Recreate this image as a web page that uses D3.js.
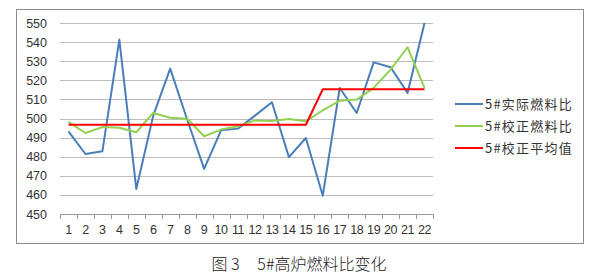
<!DOCTYPE html>
<html>
<head>
<meta charset="utf-8">
<script src="https://cdn.jsdelivr.net/npm/d3@7"></script>
<style>
  body { margin: 0; background: #fff; }
</style>
</head>
<body>
<div id="chart"></div>
<script>
const categories = d3.range(1, 23);
const actual = [493.3, 481.4, 482.8, 541.3, 463.1, 501.5, 526.1, 499.5, 473.6, 493.8, 494.7, 501.5, 508.5, 479.8,
  489.8, 459.6, 516, 502.9, 529.4, 526.8, 513.4, 550];
const corrected = [498.2, 492.4, 495.5, 495.2, 492.8, 502.9, 500.4, 499.9, 490.7, 494.2, 495.9, 499, 498.7, 499.7,
  498.5, 504.3, 509.3, 509.9, 516, 525.6, 537.3, 516];
const average = [496.7, 496.7, 496.7, 496.7, 496.7, 496.7, 496.7, 496.7, 496.7, 496.7, 496.7, 496.7, 496.7, 496.7,
  496.7, 515.3, 515.3, 515.3, 515.3, 515.3, 515.3, 515.3];
const yTicks = d3.range(450, 551, 10);
const seriesNames = ['5#实际燃料比', '5#校正燃料比', '5#校正平均值'];
const seriesColors = ['#4a7ebb', '#92d050', '#ff0000'];

const W = 598, H = 280;
const plot = { left: 60, right: 433, top: 23, bottom: 214 };

const svg = d3.select('#chart')
  .append('svg')
  .attr('width', W)
  .attr('height', H);

// chart frame
svg.append('rect')
  .attr('x', 16.5)
  .attr('y', 9.5)
  .attr('width', 567)
  .attr('height', 234)
  .attr('fill', '#fff')
  .attr('stroke', '#8c8c8c');

const x = d3.scaleBand()
  .domain(categories)
  .range([plot.left, plot.right]);

const y = d3.scaleLinear()
  .domain([450, 550])
  .range([plot.bottom, plot.top]);

// grid
svg.append('g')
  .selectAll('line')
  .data(yTicks)
  .enter()
  .append('line')
  .attr('x1', plot.left)
  .attr('x2', plot.right)
  .attr('y1', d => Math.round(y(d)) + 0.5)
  .attr('y2', d => Math.round(y(d)) + 0.5)
  .attr('stroke', d => d === 450 ? '#9a9a9a' : '#bdbdbd');

// y labels
const yAxis = svg.append('g')
  .attr('transform', `translate(${plot.left},0)`)
  .call(d3.axisLeft(y).tickValues(yTicks).tickSize(0).tickPadding(13));
yAxis.select('.domain').remove();
yAxis.selectAll('text')
  .attr('font-family', 'Liberation Sans, Arial, sans-serif')
  .attr('font-size', 12.5)
  .attr('fill', '#333');

// x axis
const xAxis = svg.append('g')
  .attr('transform', `translate(0,${Math.round(plot.bottom) + 0.5})`)
  .call(d3.axisBottom(x).tickSize(0).tickPadding(11));
xAxis.select('.domain').remove();
xAxis.selectAll('text')
  .attr('font-family', 'Liberation Sans, Arial, sans-serif')
  .attr('font-size', 12.5)
  .attr('letter-spacing', '-0.4')
  .attr('fill', '#333');

// tick marks between categories
svg.append('g')
  .selectAll('line')
  .data(categories.concat([null]))
  .enter()
  .append('line')
  .attr('x1', (d, i) => Math.round(plot.left + i * x.bandwidth()) + 0.5)
  .attr('x2', (d, i) => Math.round(plot.left + i * x.bandwidth()) + 0.5)
  .attr('y1', plot.bottom)
  .attr('y2', plot.bottom + 5)
  .attr('stroke', '#9a9a9a');

const line = d3.line()
  .x((d, i) => x(categories[i]) + x.bandwidth() / 2)
  .y(d => y(d));

[actual, corrected, average].forEach((s, i) => {
  svg.append('path')
    .datum(s)
    .attr('d', line)
    .attr('fill', 'none')
    .attr('stroke', seriesColors[i])
    .attr('stroke-width', 2)
    .attr('stroke-linejoin', 'round');
});

// legend
const legend = svg.append('g')
  .attr('transform', 'translate(455,104)');
seriesNames.forEach((name, i) => {
  const g = legend.append('g').attr('transform', `translate(0,${i * 22})`);
  g.append('line')
    .attr('x1', 0)
    .attr('x2', 28)
    .attr('stroke', seriesColors[i])
    .attr('stroke-width', 2);
  g.append('text')
    .attr('x', 30)
    .attr('dy', '0.35em')
    .attr('font-family', 'Noto Sans CJK SC, sans-serif')
    .attr('font-size', 13)
    .attr('letter-spacing', '1.2')
    .attr('fill', '#333')
    .text(name);
});

// caption
svg.append('text')
  .attr('x', 299)
  .attr('y', 270)
  .attr('text-anchor', 'middle')
  .attr('font-family', 'Noto Sans CJK SC, sans-serif')
  .attr('font-size', 16)
  .attr('font-weight', 300)
  .attr('fill', '#222')
  .text('图\u00a03\u00a0\u00a0\u00a0\u00a0\u00a05#高炉燃料比变化');
</script>
</body>
</html>
